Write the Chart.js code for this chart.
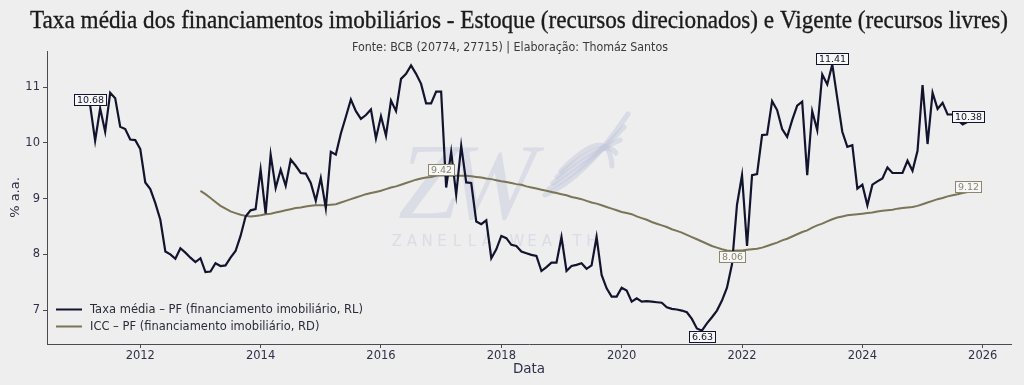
<!DOCTYPE html>
<html>
<head>
<meta charset="utf-8">
<script src="https://cdn.jsdelivr.net/npm/chart.js@4.4.1/dist/chart.umd.min.js"></script>
<style>
  html, body { margin: 0; padding: 0; background: #eeeeee; }
  #wrap { width: 1024px; height: 385px; }
</style>
</head>
<body>
<div id="wrap"><canvas id="chart" width="1024" height="385"></canvas></div>
<script>
// Série mensal, a partir de mar/2011
const startYear = 2011;
const startMonth = 3;

// Taxa média – PF (financiamento imobiliário, RL), % a.a.
const taxaMedia = [
    10.68, 10.04, 10.62, 10.20, 10.90, 10.80, 10.29, 10.25, 10.06, 10.05,
    9.89, 9.29, 9.17, 8.92, 8.62, 8.05, 8.00, 7.92, 8.11, 8.03,
    7.94, 7.86, 7.93, 7.68, 7.69, 7.84, 7.79, 7.80, 7.94, 8.06,
    8.33, 8.68, 8.79, 8.81, 9.52, 8.73, 9.79, 9.19, 9.52, 9.23,
    9.70, 9.59, 9.46, 9.45, 9.28, 8.96, 9.37, 8.83, 9.84, 9.79,
    10.17, 10.47, 10.78, 10.57, 10.43, 10.50, 10.60, 10.08, 10.48, 10.13,
    10.76, 10.57, 11.15, 11.24, 11.39, 11.24, 11.06, 10.71, 10.71, 10.92,
    10.92, 9.20, 9.84, 9.07, 9.95, 9.29, 9.28, 8.59, 8.54, 8.61,
    7.93, 8.09, 8.33, 8.29, 8.17, 8.15, 8.05, 8.02, 7.99, 7.97,
    7.70, 7.77, 7.85, 7.85, 8.31, 7.70, 7.79, 7.81, 7.84, 7.74,
    7.80, 8.31, 7.63, 7.39, 7.24, 7.24, 7.40, 7.35, 7.15, 7.21,
    7.15, 7.16, 7.15, 7.14, 7.13, 7.05, 7.02, 7.01, 6.99, 6.96,
    6.84, 6.67, 6.63, 6.76, 6.87, 6.99, 7.17, 7.40, 7.82, 8.89,
    9.42, 8.15, 9.42, 9.44, 10.14, 10.15, 10.75, 10.59, 10.25, 10.11,
    10.41, 10.67, 10.74, 9.42, 10.57, 10.23, 11.23, 11.05, 11.41, 10.80,
    10.20, 9.93, 9.96, 9.18, 9.25, 8.88, 9.25, 9.31, 9.36, 9.56,
    9.46, 9.46, 9.46, 9.68, 9.50, 9.86, 11.04, 9.98, 10.90, 10.61,
    10.72, 10.51, 10.51, 10.41, 10.33, 10.38
];

// ICC – PF (financiamento imobiliário, RD), começa em jan/2013 (22 meses depois)
const iccOffset = 22;
const icc = [
    9.14, 9.08, 9.01, 8.94, 8.87, 8.82, 8.77, 8.74, 8.71, 8.69,
    8.68, 8.69, 8.70, 8.72, 8.73, 8.75, 8.77, 8.79, 8.81, 8.83,
    8.84, 8.86, 8.87, 8.88, 8.88, 8.88, 8.89, 8.90, 8.93, 8.96,
    8.99, 9.02, 9.05, 9.08, 9.10, 9.12, 9.14, 9.17, 9.20, 9.22,
    9.25, 9.28, 9.31, 9.34, 9.36, 9.38, 9.39, 9.41, 9.42, 9.41,
    9.41, 9.41, 9.41, 9.41, 9.40, 9.39, 9.38, 9.36, 9.35, 9.33,
    9.31, 9.30, 9.28, 9.26, 9.25, 9.22, 9.20, 9.18, 9.16, 9.14,
    9.12, 9.10, 9.08, 9.06, 9.03, 9.01, 8.99, 8.96, 8.93, 8.91,
    8.88, 8.85, 8.82, 8.79, 8.76, 8.74, 8.72, 8.68, 8.65, 8.62,
    8.58, 8.55, 8.52, 8.49, 8.45, 8.42, 8.39, 8.35, 8.31, 8.27,
    8.23, 8.19, 8.15, 8.12, 8.09, 8.07, 8.06, 8.07, 8.07, 8.08,
    8.09, 8.10, 8.12, 8.15, 8.18, 8.21, 8.25, 8.28, 8.32, 8.36,
    8.40, 8.43, 8.48, 8.52, 8.55, 8.59, 8.63, 8.66, 8.68, 8.70,
    8.71, 8.72, 8.73, 8.74, 8.75, 8.77, 8.78, 8.79, 8.80, 8.82,
    8.83, 8.84, 8.85, 8.87, 8.90, 8.93, 8.96, 8.99, 9.01, 9.04,
    9.06, 9.08, 9.10, 9.12
];

const seriesNames = [
    'Taxa média – PF (financiamento imobiliário, RL)',
    'ICC – PF (financiamento imobiliário, RD)'
];
const xTicks = [2012, 2014, 2016, 2018, 2020, 2022, 2024, 2026];
const yTicks = [7, 8, 9, 10, 11];

const titleText = 'Taxa média dos financiamentos imobiliários - Estoque (recursos direcionados) e Vigente (recursos livres)';
const subtitleText = 'Fonte: BCB (20774, 27715) | Elaboração: Thomáz Santos';

const navy = '#12142e';
const olive = '#7b7456';
const axisColor = '#4a4a52';
const tickText = '#2e3148';

// converte índice do mês em ano decimal (1º dia do mês)
function monthToYear(i) {
    return startYear + (startMonth - 1 + i) / 12;
}

const taxaPoints = taxaMedia.map((v, i) => ({ x: monthToYear(i), y: v }));
const iccPoints = icc.map((v, i) => ({ x: monthToYear(i + iccOffset), y: v }));

function drawTag(ctx, text, x, y, below, border, color) {
    ctx.font = '9.5px "DejaVu Sans"';
    const w = Math.round(ctx.measureText(text).width + 5);
    const h = 11;
    const left = Math.round(x - w / 2);
    const top = Math.round(below ? y : y - h);
    ctx.fillStyle = '#f7f7f7';
    ctx.fillRect(left, top, w, h);
    ctx.strokeStyle = border;
    ctx.lineWidth = 1;
    ctx.strokeRect(left + 0.5, top + 0.5, w, h);
    ctx.fillStyle = color;
    ctx.textAlign = 'center';
    ctx.textBaseline = 'middle';
    ctx.fillText(text, left + w / 2 + 0.5, top + h / 2 + 1);
}

const backdrop = {
    id: 'backdrop',
    beforeDraw(chart) {
        const ctx = chart.ctx;
        ctx.save();
        ctx.fillStyle = '#eeeeee';
        ctx.fillRect(0, 0, chart.width, chart.height);

        // título: serifa condensada, esticada para ocupar a mesma largura
        ctx.fillStyle = '#1b1b1b';
        ctx.strokeStyle = '#1b1b1b';
        ctx.lineWidth = 0.35;
        ctx.font = '26px "Liberation Serif"';
        ctx.textAlign = 'left';
        ctx.textBaseline = 'alphabetic';
        const tw = ctx.measureText(titleText).width;
        ctx.save();
        ctx.translate(30, 27.5);
        ctx.scale(978 / tw, 1);
        ctx.fillText(titleText, 0, 0);
        ctx.strokeText(titleText, 0, 0);
        ctx.restore();

        ctx.fillStyle = '#3a3a3a';
        ctx.font = '12.5px "Liberation Sans Narrow", "DejaVu Sans Condensed", sans-serif';
        const sw = ctx.measureText(subtitleText).width;
        ctx.save();
        ctx.translate(352, 51);
        ctx.scale(316 / sw, 1);
        ctx.fillText(subtitleText, 0, 0);
        ctx.restore();
        ctx.restore();
    },
    beforeDatasetsDraw(chart) {
        // marca d'água
        const ctx = chart.ctx;
        ctx.save();
        ctx.fillStyle = 'rgba(196, 200, 220, 0.45)';
        ctx.strokeStyle = 'rgba(196, 200, 220, 0.5)';
        ctx.font = 'italic 108px "Liberation Serif"';
        ctx.textBaseline = 'alphabetic';
        ctx.fillText('Z', 398, 218);
        ctx.fillText('W', 446, 218);
        ctx.lineWidth = 5;
        ctx.lineCap = 'round';
        for (let i = 0; i < 5; i++) {
            ctx.beginPath();
            ctx.moveTo(545 + i * 4, 195 - i * 6);
            ctx.quadraticCurveTo(585 + i * 6, 178 - i * 14, 628 - i * 4, 114 + i * 13);
            ctx.stroke();
        }
        ctx.font = '15px "DejaVu Sans"';
        ctx.textAlign = 'center';
        ctx.textBaseline = 'middle';
        const mark = 'ZANELLA WEALTH';
        for (let i = 0; i < mark.length; i++) {
            ctx.fillText(mark[i], 397 + i * 15, 242);
        }
        ctx.restore();
    },
    afterDatasetsDraw(chart) {
        const ctx = chart.ctx;
        const xs = chart.scales.x;
        const ys = chart.scales.y;
        ctx.save();

        const tagSets = [
            { pts: taxaPoints, kinds: ['first', 'max', 'min', 'last'], border: navy, color: navy },
            { pts: iccPoints, kinds: ['max', 'min', 'last'], border: '#8c866c', color: '#8a8570' }
        ];
        tagSets.forEach(set => {
            const vals = set.pts.map(p => p.y);
            const idx = {
                first: 0,
                last: vals.length - 1,
                max: vals.indexOf(Math.max(...vals)),
                min: vals.indexOf(Math.min(...vals))
            };
            set.kinds.forEach(k => {
                const p = set.pts[idx[k]];
                drawTag(ctx, p.y.toFixed(2), xs.getPixelForValue(p.x), ys.getPixelForValue(p.y),
                    k === 'min', set.border, set.color);
            });
        });

        // legenda
        const rows = [
            { label: seriesNames[0], color: navy, y: 309.5 },
            { label: seriesNames[1], color: olive, y: 326.5 }
        ];
        ctx.font = '11.5px "DejaVu Sans"';
        ctx.textAlign = 'left';
        ctx.textBaseline = 'middle';
        rows.forEach(r => {
            ctx.strokeStyle = r.color;
            ctx.lineWidth = 2;
            ctx.beginPath();
            ctx.moveTo(56, r.y);
            ctx.lineTo(82, r.y);
            ctx.stroke();
            ctx.fillStyle = '#2a2c3a';
            ctx.fillText(r.label, 90, r.y + 0.5);
        });
        ctx.restore();
    }
};

const chart = new Chart(document.getElementById('chart'), {
    type: 'line',
    data: {
        datasets: [
            {
                label: seriesNames[0],
                data: taxaPoints,
                borderColor: navy,
                borderWidth: 2.2,
                pointRadius: 0,
                tension: 0
            },
            {
                label: seriesNames[1],
                data: iccPoints,
                borderColor: olive,
                borderWidth: 2,
                pointRadius: 0,
                tension: 0
            }
        ]
    },
    options: {
        responsive: false,
        devicePixelRatio: 1,
        animation: false,
        layout: { padding: { top: 51, left: 0, right: 13, bottom: 0 } },
        plugins: {
            legend: { display: false },
            tooltip: { enabled: false }
        },
        scales: {
            x: {
                type: 'linear',
                min: 2010.45,
                max: 2026.47,
                afterBuildTicks: s => { s.ticks = xTicks.map(v => ({ value: v })); },
                afterFit: s => { s.height = 41; },
                grid: { drawOnChartArea: false, drawTicks: true, tickLength: 4, color: axisColor },
                border: { display: true, color: axisColor, width: 1 },
                ticks: {
                    autoSkip: false,
                    maxRotation: 0,
                    padding: 1,
                    color: tickText,
                    font: { family: 'DejaVu Sans', size: 11.5 },
                    callback: v => String(v)
                },
                title: {
                    display: true,
                    text: 'Data',
                    color: tickText,
                    font: { family: 'DejaVu Sans', size: 13.5 },
                    padding: { top: 0, bottom: 7 }
                }
            },
            y: {
                min: 6.39,
                max: 11.65,
                afterBuildTicks: s => { s.ticks = yTicks.map(v => ({ value: v })); },
                afterFit: s => { s.width = 47; },
                grid: { drawOnChartArea: false, drawTicks: true, tickLength: 4, color: axisColor },
                border: { display: true, color: axisColor, width: 1 },
                ticks: {
                    padding: 3,
                    color: tickText,
                    font: { family: 'DejaVu Sans', size: 11.5 },
                    callback: v => String(v)
                },
                title: {
                    display: true,
                    text: '% a.a.',
                    color: tickText,
                    font: { family: 'DejaVu Sans', size: 13 },
                    padding: { top: 8, bottom: 0 }
                }
            }
        }
    },
    plugins: [backdrop]
});
</script>
</body>
</html>
